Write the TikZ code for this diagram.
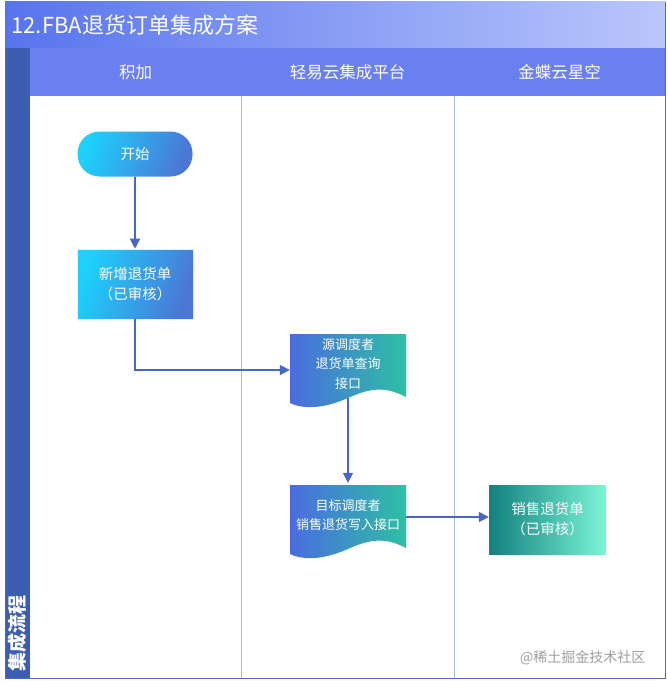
\documentclass[tikz,border=0pt]{standalone}
\usepackage{fontspec}
\setmainfont{Noto Sans CJK SC}
\usetikzlibrary{arrows.meta,calc}
\definecolor{bandblue}{HTML}{3D5EB0}
\definecolor{headblue}{HTML}{6A7FF0}
\definecolor{titleL}{HTML}{5874EE}
\definecolor{titleR}{HTML}{BAC6FB}
\definecolor{laneline}{HTML}{A9B6DD}
\definecolor{arrblue}{HTML}{4767C4}
\definecolor{startL}{HTML}{1CD2FB}
\definecolor{startR}{HTML}{4B76D6}
\definecolor{docL}{HTML}{4A6CDF}
\definecolor{docR}{HTML}{2EC0A4}
\definecolor{saleL}{HTML}{11807F}
\definecolor{saleR}{HTML}{7DF5D6}
\newcommand{\ArrTip}{Triangle[length=10,width=10]}
\tikzset{flow/.style={draw=arrblue,line width=1.6,-{\ArrTip}}}
\tikzset{boxtxt/.style={text=white,font=\fontsize{14.5}{20}\selectfont,align=center}}
\tikzset{startbox/.style={boxtxt,rounded corners=22,minimum width=115,minimum height=45,left color=startL,right color=startR,shading angle=70}}
\tikzset{procbox/.style={boxtxt,minimum width=116,minimum height=70,left color=startL,right color=startR,shading angle=70,draw=white!80!startL,line width=.6}}
\tikzset{salebox/.style={boxtxt,minimum width=117,minimum height=69,left color=saleL,right color=saleR}}
\tikzset{docbox/.style={boxtxt,font=\fontsize{13}{19.5}\selectfont,minimum width=116,minimum height=64,inner sep=0}}
% document shape with wavy foot: name, centre x, top y, text
\newcommand{\DocNode}[4]{%
\shade[left color=docL,right color=docR](#2-58,#3)--(#2+58,#3)--(#2+58,#3+63)
 ..controls(#2+37,#3+52)and(#2+22,#3+54)..(#2,#3+64)
 ..controls(#2-23,#3+74)and(#2-43,#3+76)..(#2-58,#3+69)--cycle;
\node(#1)[docbox]at(#2,#3+30){#4};}
\begin{document}
\begin{tikzpicture}[x=1pt,y=-1pt]
\useasboundingbox(0,0)rectangle(667,685);
% frame
\shade[left color=titleL,right color=titleR](5,2)rectangle(665,48);
\node(title)[anchor=west,text=white,font=\fontsize{22}{26}\selectfont]at(8,25){12.FBA退货订单集成方案};
\fill[headblue](30,48)rectangle(665,96);
\fill[bandblue](5,48)rectangle(30,678);
\node(band)[rotate=90,anchor=west,text=white,font=\fontsize{19}{21}\selectfont\bfseries]at(17,675){集成流程};
\draw[laneline,line width=.8](241,96)--(241,678)(454,96)--(454,678);
\draw[draw=headblue!80!black,line width=.8](5,48)--(5,678)--(665,678)--(665,2);
\begin{scope}[text=white,font=\fontsize{16.5}{19}\selectfont]
\node(laneA)at(135.5,72){积加};\node(laneB)at(347.5,72){轻易云集成平台};\node(laneC)at(559.5,72){金蝶云星空};
\end{scope}
% steps
\node(start)[startbox]at(135,154){开始};
\node(add)[procbox]at(135,284){新增退货单\\（已审核）};
\DocNode{src}{348}{334}{源调度者\\退货单查询\\接口}
\DocNode{tgt}{348}{485}{目标调度者\\销售退货写入接口}
\node(sale)[salebox]at(547.5,519.5){销售退货单\\（已审核）};
% connectors
\draw[flow](start)--(add);
\draw[flow](add.south)|-($(src.west)+(0,6)$);
\draw[flow]($(src.south)+(0,2)$)--(tgt.north);
\draw[flow]($(tgt.east)+(0,2)$)--($(tgt.east-|sale.west)+(0,2)$);
\node(mark)[anchor=east,text=black!38,font=\fontsize{14}{16}\selectfont]at(649,658){@稀土掘金技术社区};
\end{tikzpicture}
\end{document}
